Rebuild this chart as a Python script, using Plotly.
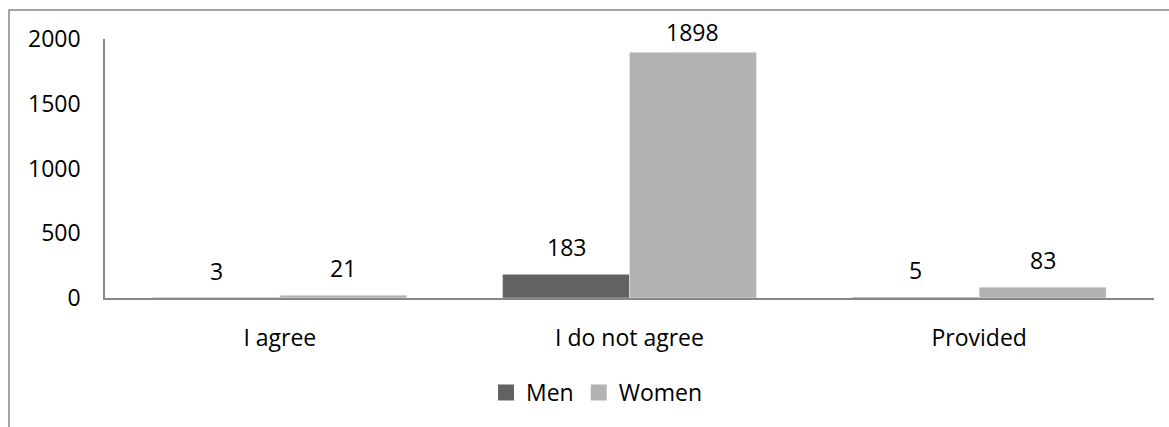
import plotly.graph_objects as go

categories = ["I agree", "I do not agree", "Provided"]
men = [3, 183, 5]
women = [21, 1898, 83]
series_names = ["Men", "Women"]
y_ticks = [0, 500, 1000, 1500, 2000]

MEN_COLOR = "#626262"
WOMEN_COLOR = "#b2b2b2"
AXIS_COLOR = "#878787"
FONT = "Open Sans"
FS = 23

W, H = 1169, 427
L, R, T, B = 105, 15, 39, 129
plot_h = H - T - B
plot_w = W - L - R
ymax = 2000

fig = go.Figure()
fig.add_trace(go.Bar(x=categories, y=men, name=series_names[0], marker_color=MEN_COLOR,
                     showlegend=False))
fig.add_trace(go.Bar(x=categories, y=women, name=series_names[1], marker_color=WOMEN_COLOR,
                     showlegend=False))
# legend entries with larger square swatches
for nm, col in zip(series_names, [MEN_COLOR, WOMEN_COLOR]):
    fig.add_trace(go.Scatter(x=[None], y=[None], mode="markers", name=nm,
                             marker=dict(symbol="square", size=16, color=col)))

# value labels above bars
annotations = []
for vals, xs in ((men, -1), (women, 1)):
    for cat, v in zip(categories, vals):
        bar_top_px = T + plot_h - v * plot_h / ymax
        gap = min(18, bar_top_px - 41)
        annotations.append(dict(
            x=cat, y=v, xref="x", yref="y", text=str(v), showarrow=False,
            xanchor="center", yanchor="bottom", xshift=xs * plot_w / 3 * 0.726 / 4,
            yshift=gap - 9, font=dict(family=FONT, size=FS, color="#000000")))

fig.update_layout(
    width=W, height=H,
    margin=dict(l=L, r=R, t=T, b=B),
    paper_bgcolor="white", plot_bgcolor="white",
    barmode="group", bargap=0.274, bargroupgap=0,
    font=dict(family=FONT, size=FS, color="#000000"),
    annotations=annotations,
    legend=dict(orientation="h", x=0.469, xanchor="center", y=-0.365, yanchor="middle",
                font=dict(family=FONT, size=FS), itemwidth=30, traceorder="normal"),
    shapes=[dict(type="rect", xref="paper", yref="paper",
                 x0=(9 - L) / plot_w, x1=(W + 20 - L) / plot_w,
                 y0=-(B + 20) / plot_h, y1=1 + (T - 10) / plot_h,
                 line=dict(color=AXIS_COLOR, width=1.5), fillcolor="rgba(0,0,0,0)",
                 layer="below")],
)
fig.update_xaxes(showline=True, linecolor=AXIS_COLOR, linewidth=1.5, ticks="",
                 showgrid=False, ticklabelstandoff=19)
fig.update_yaxes(range=[0, ymax], tickvals=y_ticks, showline=True, linecolor=AXIS_COLOR,
                 linewidth=1.5, ticks="", showgrid=False, zeroline=False,
                 ticklabelstandoff=18)

fig.write_html("out.html")
